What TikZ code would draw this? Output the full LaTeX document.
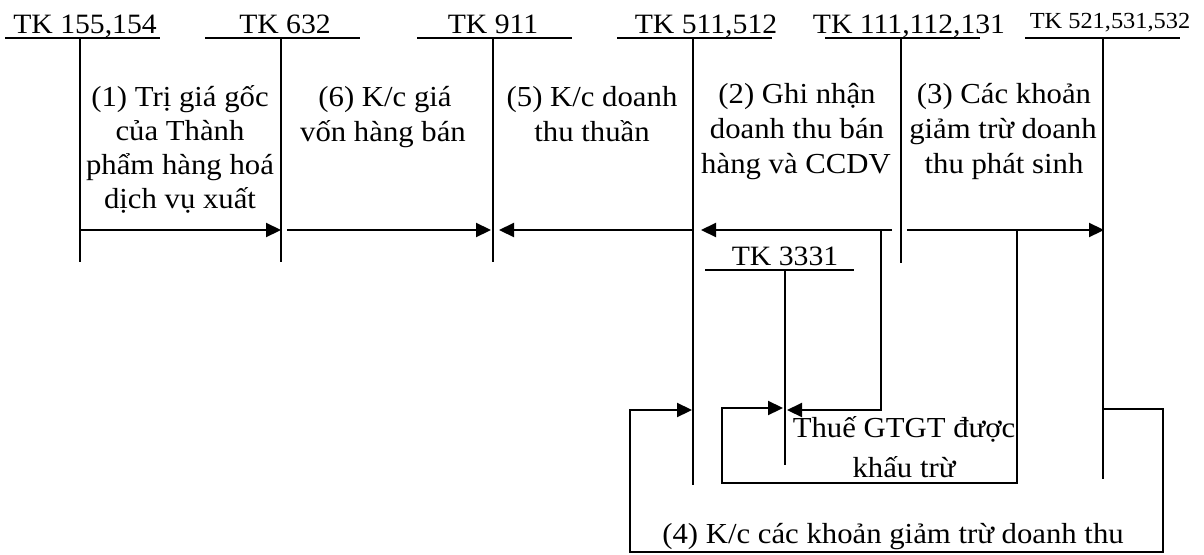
\documentclass[tikz,border=0pt]{standalone}
\usepackage{fontspec}
\setmainfont{Liberation Serif}[FakeStretch=1.06]
\usetikzlibrary{arrows.meta}
\newcommand\tacc[8]{%
  % #1 name, #2 label x, #3 label baseline y, #4 text, #5 underline left, #6 underline right, #7 vertical x, #8 vertical bottom
  \node[lbl] (#1lab) at (#2,#3) {#4};
  \coordinate (#1ul) at (#5,#3+5);
  \coordinate (#1ur) at (#6,#3+5);
  \coordinate (#1vt) at (#7,#3+5);
  \coordinate (#1vb) at (#7,#8);
  \draw[acc] (#1ul) -- (#1ur);
  \draw[acc] (#1vt) -- (#1vb);
}
\begin{document}
\begin{tikzpicture}[x=1pt,y=-1pt,
  acc/.style={line width=1.8pt},
  wire/.style={line width=2.2pt,line join=miter},
  flow/.style={wire,-{Triangle[length=15pt,width=14pt]}},
  lbl/.style={inner sep=0pt,anchor=base,font=\fontsize{28}{34}\selectfont},
  body/.style={inner sep=0pt,anchor=base,font=\fontsize{29}{34}\selectfont},
  slbl/.style={inner sep=0pt,anchor=base,font=\fontsize{23}{28}\selectfont},
]
\useasboundingbox (0,0) rectangle (1204,554);
% T-accounts
\tacc{k155}{85}{33}{TK 155,154}{5}{160}{80}{262}
\tacc{k632}{285}{33}{TK 632}{205}{360}{281}{262}
\tacc{k911}{493}{33}{TK 911}{417}{572}{493}{262}
\tacc{k511}{706}{33}{TK 511,512}{617}{772}{693}{485}
\tacc{k111}{909}{33}{TK 111,112,131}{825}{980}{901}{263}
\tacc{k3331}{785}{265}{TK 3331}{705}{854}{785}{465}
% TK 521 (smaller label)
\node[slbl] (k521lab) at (1110,28) {TK 521,531,532};
\coordinate (k521ul) at (1025,38);
\coordinate (k521ur) at (1180,38);
\coordinate (k521vt) at (1103,38);
\coordinate (k521vb) at (1103,479);
\draw[acc] (k521ul) -- (k521ur);
\draw[acc] (k521vt) -- (k521vb);
% flows on the row y=230
\coordinate (f1s) at (80,230);  \coordinate (f1e) at (281,230);
\coordinate (f6s) at (287,230); \coordinate (f6e) at (491,230);
\coordinate (f5s) at (693,230); \coordinate (f5e) at (499,230);
\coordinate (f2s) at (892,230); \coordinate (f2e) at (701,230);
\coordinate (f3s) at (907,230); \coordinate (f3e) at (1104,230);
\draw[flow] (f1s) -- (f1e);
\draw[flow] (f6s) -- (f6e);
\draw[flow] (f5s) -- (f5e);
\draw[flow] (f2s) -- (f2e);
\draw[flow] (f3s) -- (f3e);
% VAT: from TK 111 flow down to TK 3331
\coordinate (vs) at (881,230);
\coordinate (vc) at (881,410);
\coordinate (ve) at (787,410);
\draw[flow] (vs) -- (vc) -- (ve);
% VAT deducted: from TK 521 flow to TK 3331
\coordinate (ds) at (1017,230);
\coordinate (d1) at (1017,483);
\coordinate (d2) at (722,483);
\coordinate (d3) at (722,408);
\coordinate (de) at (783,408);
\draw[flow] (ds) -- (d1) -- (d2) -- (d3) -- (de);
% (4) transfer of revenue deductions
\coordinate (rs) at (1103,409);
\coordinate (r1) at (1163,409);
\coordinate (r2) at (1163,552);
\coordinate (r3) at (630,552);
\coordinate (r4) at (630,410);
\coordinate (re) at (692,410);
\draw[flow] (rs) -- (r1) -- (r2) -- (r3) -- (r4) -- (re);
% texts
\node[body] (t1a) at (180,106) {(1) Trị giá gốc};
\node[body] (t1b) at (180,140) {của Thành};
\node[body] (t1c) at (180,174) {phẩm hàng hoá};
\node[body] (t1d) at (180,208) {dịch vụ xuất};
\node[body] (t6a) at (385,106) {(6) K/c giá};
\node[body] (t6b) at (383,141) {vốn hàng bán};
\node[body] (t5a) at (592,106) {(5) K/c doanh};
\node[body] (t5b) at (592,141) {thu thuần};
\node[body] (t2a) at (797,103) {(2) Ghi nhận};
\node[body] (t2b) at (797,138) {doanh thu bán};
\node[body] (t2c) at (796,173) {hàng và CCDV};
\node[body] (t3a) at (1004,103) {(3) Các khoản};
\node[body] (t3b) at (1003,138) {giảm trừ doanh};
\node[body] (t3c) at (1004,173) {thu phát sinh};
\node[body] (tva) at (904,437) {Thuế GTGT được};
\node[body] (tvb) at (904,477) {khấu trừ};
\node[body] (t4) at (893,543) {(4) K/c các khoản giảm trừ doanh thu};
\end{tikzpicture}
\end{document}
